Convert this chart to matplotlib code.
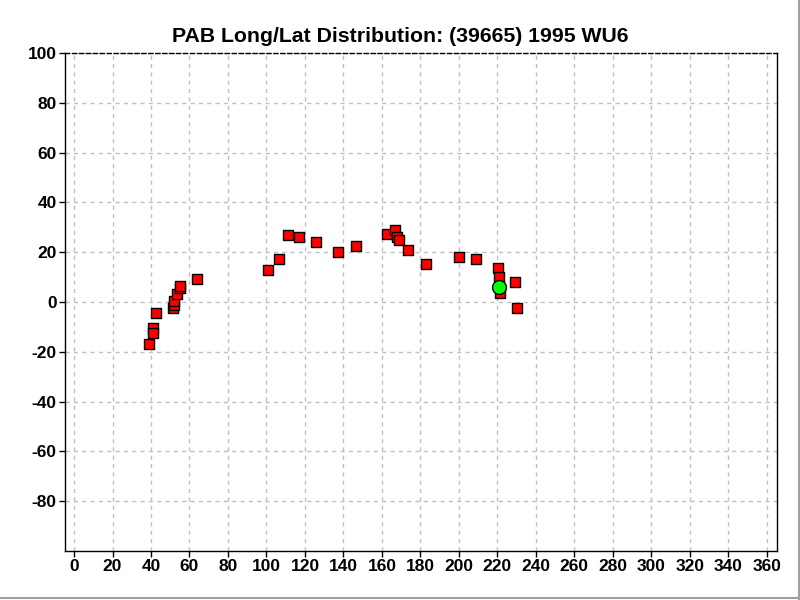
import matplotlib
matplotlib.use("Agg")
import matplotlib.pyplot as plt
from matplotlib.lines import Line2D

plt.rcParams['font.family'] = ['Liberation Sans', 'DejaVu Sans']
plt.rcParams['axes.unicode_minus'] = False

# positions of the asteroid (longitude / latitude of PAB)
lon = [39.1, 41.2, 41.2, 42.5, 51.6, 52.1, 52.1, 53.4, 55.2, 55.2, 64.1,
       101.0, 106.7, 111.4, 117.1, 125.9, 137.4, 146.7, 162.8, 167.0, 168.0,
       169.1, 173.8, 182.9,
       200.3, 209.1, 220.5, 221.0, 221.6, 229.4, 230.4]
lat = [-16.9, -10.5, -12.3, -4.5, -2.5, -1.2, 0.4, 3.2, 5.5, 6.5, 9.1,
       12.7, 17.1, 26.7, 25.9, 23.9, 19.9, 22.3, 27.5, 29.1, 25.9,
       24.7, 20.7, 15.1,
       17.9, 17.1, 13.5, 9.9, 3.5, 7.9, -2.5]
# current point
cur_lon = [220.7]
cur_lat = [6.1]

xticks = list(range(0, 361, 20))
yticks = list(range(-80, 101, 20))

fig = plt.figure(figsize=(8, 6), dpi=100)
ax = fig.add_axes([0.08125, 0.0817, 0.8897, 0.83])

ax.scatter(lon, lat, marker='s', s=42, facecolor='#ff0000', edgecolor='black',
           linewidth=1.0, zorder=3)
ax.scatter(cur_lon, cur_lat, marker='o', s=100, facecolor='#00ff00', edgecolor='black',
           linewidth=1.0, zorder=4)

ax.set_xlim(-4.7, 365.2)
ax.set_ylim(-100, 100)
ax.set_xticks(xticks)
ax.set_yticks(yticks)
ax.grid(True, color='#c0c0c0', linestyle=(0, (3, 3)), linewidth=1.0)
ax.set_axisbelow(True)

for lab in ax.get_xticklabels() + ax.get_yticklabels():
    lab.set_fontweight('bold')
    lab.set_fontsize(12.5)
ax.tick_params(length=4, width=1, colors='black', pad=2)

ax.spines['top'].set_linestyle((0, (3, 2)))
for s in ax.spines.values():
    s.set_linewidth(1.0)
    s.set_color('black')

fig.text(0.5, 0.94, 'PAB Long/Lat Distribution: (39665) 1995 WU6', fontsize=15.3,
         fontweight='bold', ha='center', va='center')

# cadre de la fenetre
fig.add_artist(Line2D([0.999, 0.999], [0, 1], transform=fig.transFigure, color='#a0a0a0', lw=1.5))
fig.add_artist(Line2D([0, 1], [0.003, 0.003], transform=fig.transFigure, color='#a0a0a0', lw=1.5))

fig.savefig('out.png', dpi=100)
